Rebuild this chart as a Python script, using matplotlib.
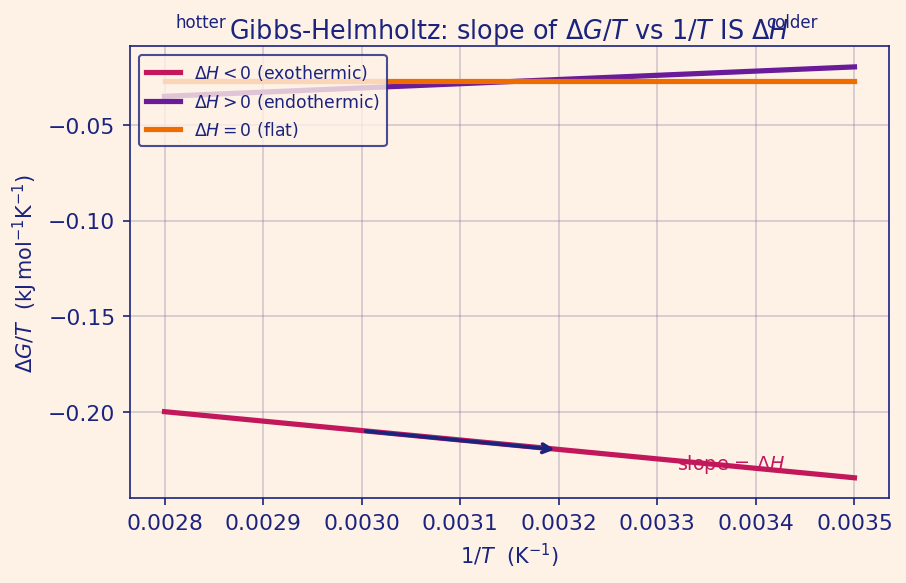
import matplotlib
matplotlib.use('Agg')
import matplotlib.pyplot as plt

# data
inv_T = [0.0028, 0.0035]
exo = [-0.200, -0.2346]
endo = [-0.035, -0.0196]
flat = [-0.027, -0.027]
arrow_from = (0.0030, -0.210)
arrow_to = (0.0032, -0.220)
xticks = [0.0028, 0.0029, 0.0030, 0.0031, 0.0032, 0.0033, 0.0034, 0.0035]

bg = '#fef1e6'
navy = '#1a237e'
crimson = '#c2185b'
purple = '#6a1b9a'
orange = '#ef6c00'

fig = plt.figure(figsize=(6.04, 3.893), dpi=150, facecolor=bg)
ax = fig.add_axes([0.1435, 0.145, 0.8377, 0.774], facecolor=bg)

ax.plot(inv_T, exo, color=crimson, lw=2.5, label=r'$\Delta H < 0$ (exothermic)')
ax.plot(inv_T, endo, color=purple, lw=2.5, label=r'$\Delta H > 0$ (endothermic)')
ax.plot(inv_T, flat, color=orange, lw=2.5, label=r'$\Delta H = 0$ (flat)')

ax.annotate('', xy=arrow_to, xytext=arrow_from,
            arrowprops=dict(arrowstyle='->', color=navy, lw=1.8))
ax.text(0.00332, -0.227, r'slope = $\Delta H$', color=crimson, fontsize=9.2,
        ha='left', va='center')

ax.set_xticks(xticks)
ax.set_xticklabels(['%.4f' % v for v in xticks])
ax.grid(True, color='#4a4a8a', alpha=0.25, lw=0.8)
ax.tick_params(colors=navy, labelsize=10.5)
for s in ax.spines.values():
    s.set_color(navy)
ax.set_xlabel(r'$1/T$  (K$^{-1}$)', color=navy, fontsize=10)
ax.set_ylabel(r'$\Delta G/T$  (kJ$\,$mol$^{-1}$K$^{-1}$)', color=navy, fontsize=10)
ax.set_title(r'Gibbs-Helmholtz: slope of $\Delta G/T$ vs $1/T$ IS $\Delta H$',
             color=navy, fontsize=12.25, pad=4)
ax.text(0.093, 1.042, 'hotter', transform=ax.transAxes, color=navy,
        fontsize=8, ha='center', va='baseline')
ax.text(0.872, 1.042, 'colder', transform=ax.transAxes, color=navy,
        fontsize=8, ha='center', va='baseline')

leg = ax.legend(loc='upper left', fontsize=8.3, facecolor=bg, edgecolor=navy,
                framealpha=0.8)
for t in leg.get_texts():
    t.set_color(navy)

fig.savefig('out.png', dpi=150, facecolor=bg)
